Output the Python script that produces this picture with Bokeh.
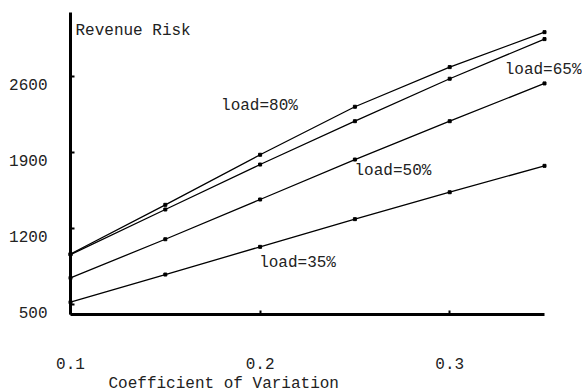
from bokeh.plotting import figure
from bokeh.models import Range1d, FixedTicker, Label, CustomLabelingPolicy
from bokeh.embed import file_html
from bokeh.resources import INLINE

# Coefficient of variation (x) and revenue risk per load level
cv = [0.10, 0.15, 0.20, 0.25, 0.30, 0.35]
load80 = [965, 1418, 1879, 2321, 2686, 3008]
load65 = [960, 1375, 1789, 2188, 2579, 2944]
load50 = [745, 1101, 1467, 1835, 2188, 2536]
load35 = [521, 776, 1031, 1286, 1534, 1777]

x_ticks = [0.1, 0.2, 0.3]
y_ticks = [500, 1200, 1900, 2600]

# curve labels: (text, x, y)
curve_labels = [
    ("load=80%", 0.1794, 2324),
    ("load=65%", 0.3290, 2664),
    ("load=50%", 0.2498, 1725),
    ("load=35%", 0.1995, 880),
]

FONT = "Liberation Mono"
FSIZE = "16px"
INK = "#222222"

W, H = 582, 392
# axis box inside the canvas (pixels) and the data it spans
LEFT, RIGHT, TOP, BOTTOM = 70, 544, 12, 314
XMIN, XMAX = 0.1, 0.35
YMIN, YMAX = 408, 3189

# the frame fills the whole canvas so texts around the axes are not clipped
sx = (XMAX - XMIN) / (RIGHT - LEFT)
sy = (YMAX - YMIN) / (BOTTOM - TOP)
x_range = Range1d(XMIN - LEFT * sx, XMAX + (W - RIGHT) * sx)
y_range = Range1d(YMIN - (H - BOTTOM) * sy, YMAX + TOP * sy)

p = figure(width=W, height=H, output_backend="svg", toolbar_location=None,
           x_range=x_range, y_range=y_range, min_border=0)
p.outline_line_color = None
p.grid.visible = False
p.background_fill_color = "white"
p.border_fill_color = "white"

for ax in (p.xaxis[0], p.yaxis[0]):
    ax.axis_line_width = 3
    ax.axis_line_color = "black"
    ax.major_tick_in = 4
    ax.major_tick_out = 0
    ax.major_tick_line_width = 2
    ax.minor_tick_line_color = None
    ax.major_label_text_font = FONT
    ax.major_label_text_font_size = FSIZE
    ax.major_label_text_color = INK

p.xaxis.fixed_location = YMIN
p.xaxis.bounds = (XMIN, XMAX)
p.xaxis.ticker = FixedTicker(ticks=x_ticks)
p.xaxis.major_label_standoff = 43

p.yaxis.fixed_location = XMIN
p.yaxis.bounds = (YMIN, YMAX)
p.yaxis.ticker = FixedTicker(ticks=y_ticks)
# y tick labels sit a little below their ticks; they are drawn as labels below
p.yaxis.major_label_policy = CustomLabelingPolicy(code="""
for (const i of indices)
  indices.unset(i)
return indices
""")

for series in (load80, load65, load50, load35):
    p.line(cv, series, line_color="black", line_width=1.3)
    p.scatter(cv, series, marker="square", size=3, color="black")


def add_text(text, x, y, dx=0, dy=0, align="left"):
    p.add_layout(Label(x=x, y=y, x_offset=dx, y_offset=dy, text=text,
                       text_font=FONT, text_font_size=FSIZE, text_color=INK,
                       text_baseline="middle", text_align=align))


for text, lx, ly in curve_labels:
    add_text(text, lx, ly)

for t in y_ticks:
    add_text(str(t), XMIN, t, dx=-23, dy=-8, align="right")

# axis titles
add_text("Revenue Risk", XMIN, YMAX, dx=5, dy=-18)
add_text("Coefficient of Variation", XMIN, YMIN, dx=38, dy=-69)

open("out.html", "w").write(file_html(p, INLINE))
